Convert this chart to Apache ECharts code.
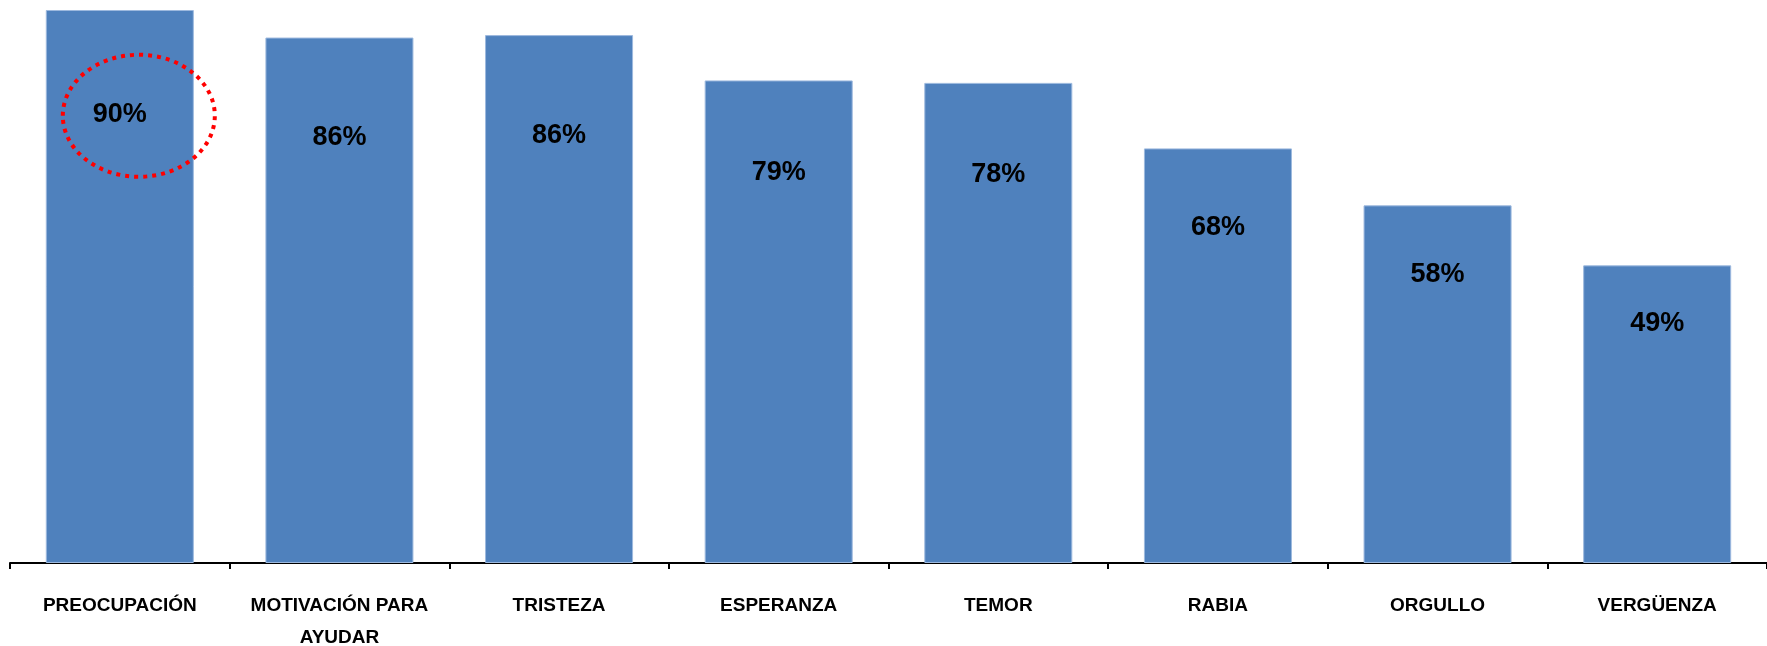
<!DOCTYPE html>
<html>
<head>
<meta charset="utf-8">
<script src="https://cdn.jsdelivr.net/npm/echarts@6/dist/echarts.min.js"></script>
<style>
  html, body { margin: 0; padding: 0; background: #fff; }
  #chart { width: 1767px; height: 646px; }
</style>
</head>
<body>
<div id="chart"></div>
<script>
const categories = ['PREOCUPACIÓN', 'MOTIVACIÓN PARA\nAYUDAR', 'TRISTEZA', 'ESPERANZA', 'TEMOR', 'RABIA', 'ORGULLO', 'VERGÜENZA'];
const values = [90.3, 85.8, 86.2, 78.8, 78.4, 67.7, 58.4, 48.6];
const highlightIndex = 0;

const FONT = "'Liberation Sans Narrow', 'Liberation Sans', 'Noto Sans', sans-serif";
const LABEL_FRAC = 0.184;
const chart = echarts.init(document.getElementById('chart'), null, { renderer: 'canvas' });

chart.setOption({
  animation: false,
  backgroundColor: '#ffffff',
  grid: { left: 10, right: 0, top: 10, bottom: 83, containLabel: false, outerBoundsMode: 'none' },
  xAxis: {
    type: 'category',
    data: categories,
    boundaryGap: true,
    axisLine: { show: true, lineStyle: { color: '#000000', width: 2 } },
    axisTick: { show: true, alignWithLabel: false, length: 6, lineStyle: { color: '#000000', width: 2 } },
    axisLabel: {
      interval: 0,
      margin: 27,
      color: '#000000',
      fontFamily: FONT,
      fontWeight: 'bold',
      fontSize: 19,
      lineHeight: 32
    },
    splitLine: { show: false }
  },
  yAxis: {
    type: 'value',
    min: 0,
    max: function (v) { return v.max; },
    show: false,
    splitLine: { show: false }
  },
  series: [{
    type: 'bar',
    data: values,
    barCategoryGap: '32.6%',
    itemStyle: { color: '#4F81BD', borderColor: '#9DB9DE', borderWidth: 1 },
    label: {
      show: true,
      position: ['50%', (LABEL_FRAC * 100) + '%'],
      offset: [0, 3],
      align: 'center',
      verticalAlign: 'middle',
      color: '#000000',
      fontFamily: FONT,
      fontWeight: 'bold',
      fontSize: 27,
      formatter: function (p) { return Math.round(p.value) + '%'; }
    }
  }]
});

// Red dotted ellipse annotation around the highlighted label
const basePt = chart.convertToPixel({ seriesIndex: 0 }, [highlightIndex, 0]);
const topPt = chart.convertToPixel({ seriesIndex: 0 }, [highlightIndex, values[highlightIndex]]);
const labelY = topPt[1] + (basePt[1] - topPt[1]) * LABEL_FRAC + 3;
chart.setOption({
  graphic: [{
    type: 'ellipse',
    z: 100,
    shape: { cx: basePt[0] + 19, cy: labelY + 1, rx: 76, ry: 61 },
    style: { fill: 'none', stroke: '#FF0000', lineWidth: 4, lineDash: [4, 5], lineCap: 'butt' }
  }]
});
</script>
</body>
</html>
